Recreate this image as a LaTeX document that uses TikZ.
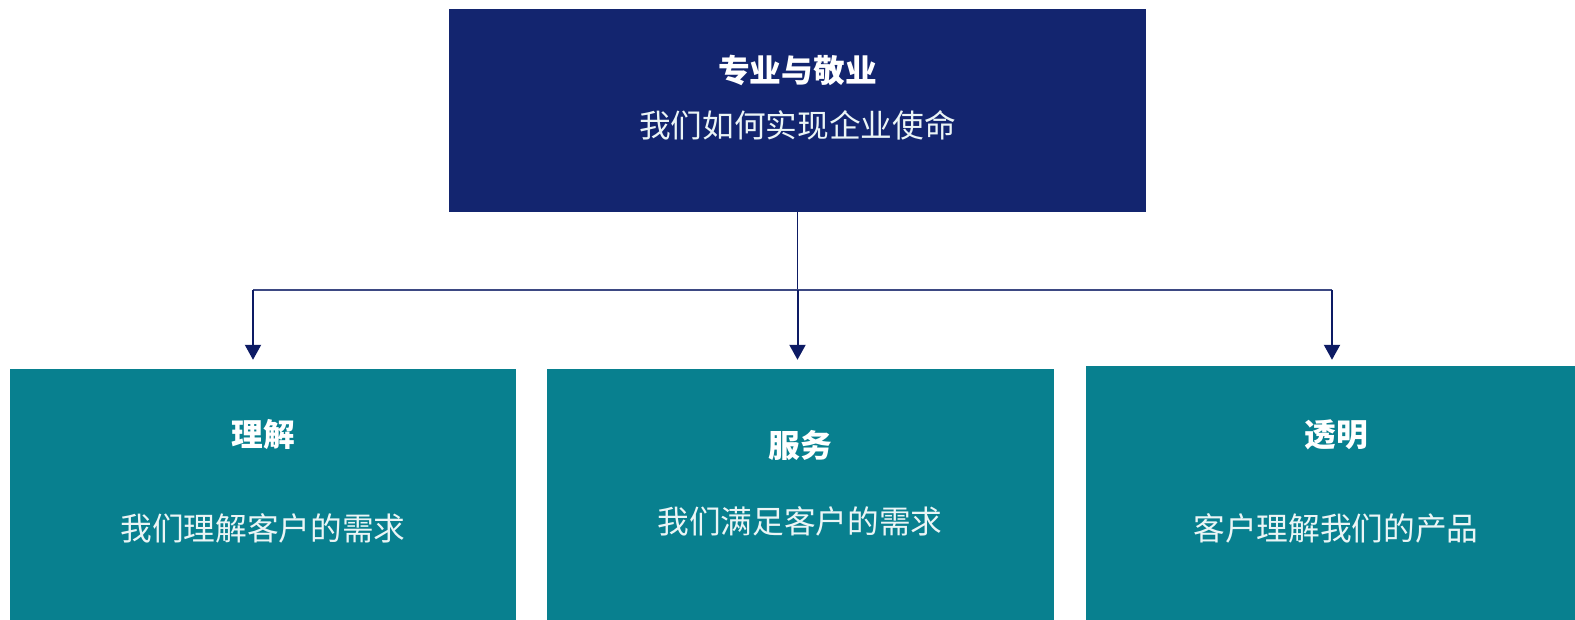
\documentclass[tikz,border=0pt]{standalone}
\usepackage{fontspec}
\setmainfont{Noto Sans CJK SC}
\usetikzlibrary{arrows.meta,positioning}

\definecolor{navy}{RGB}{19,37,111}
\definecolor{arrownavy}{RGB}{13,27,100}
\definecolor{teal}{RGB}{8,128,143}

\tikzset{
	topbox/.style={rectangle,fill=navy,draw=none,minimum width=697pt,minimum height=203pt,inner sep=0pt},
	valuebox/.style={rectangle,fill=teal,draw=none,minimum height=251pt,inner sep=0pt},
	headtext/.style={text=white,font=\fontsize{31.7}{38}\selectfont\bfseries},
	subtext/.style={text=white!92!teal,font=\fontsize{31.7}{38}\selectfont},
	flow/.style={draw=arrownavy,line width=2pt,-{Triangle[width=16pt,length=15pt]}},
}

\begin{document}
\begin{tikzpicture}[x=1pt,y=1pt]
		\useasboundingbox (0,0) rectangle (1575,-620);
		
		% mission box
		\node[topbox] (mission) at (797.5,-110.5) {};
		\node[headtext] (missiontitle) at (797.5,-70) {专业与敬业};
		\node[subtext] (missionsub) at (797.5,-125) {我们如何实现企业使命};
		
		% three values
		\node[valuebox,minimum width=506pt] (understand) at (263,-494.5) {};
		\node[valuebox,minimum width=507pt] (serve) at (800.5,-494.5) {};
		\node[valuebox,minimum width=489pt,minimum height=254pt] (clear) at (1330.5,-493) {};
		
		\node[headtext] (understandtitle) at (263,-435) {理解};
		\node[subtext] (understandsub) at (263,-528) {我们理解客户的需求};
		\node[headtext] (servetitle) at (800,-445) {服务};
		\node[subtext] (servesub) at (800,-521) {我们满足客户的需求};
		\node[headtext] (cleartitle) at (1336,-435) {透明};
		\node[subtext] (clearsub) at (1336,-528) {客户理解我们的产品};
		
		% connectors
		\coordinate (busL) at (253,-290);
		\coordinate (busR) at (1332,-290);
		\draw[draw=arrownavy,line width=1pt] (mission.south) -- (mission.south|-busL);
		\draw[draw=arrownavy!80,line width=1.5pt] (busL) -- (busR);
		\draw[flow,shorten >=9pt] (busL) -- (busL|-understand.north);
		\draw[flow,shorten >=9pt] (mission.south|-busL) -- (mission.south|-serve.north);
		\draw[flow,shorten >=6pt] (busR) -- (busR|-clear.north);
		
	\end{tikzpicture}
\end{document}
